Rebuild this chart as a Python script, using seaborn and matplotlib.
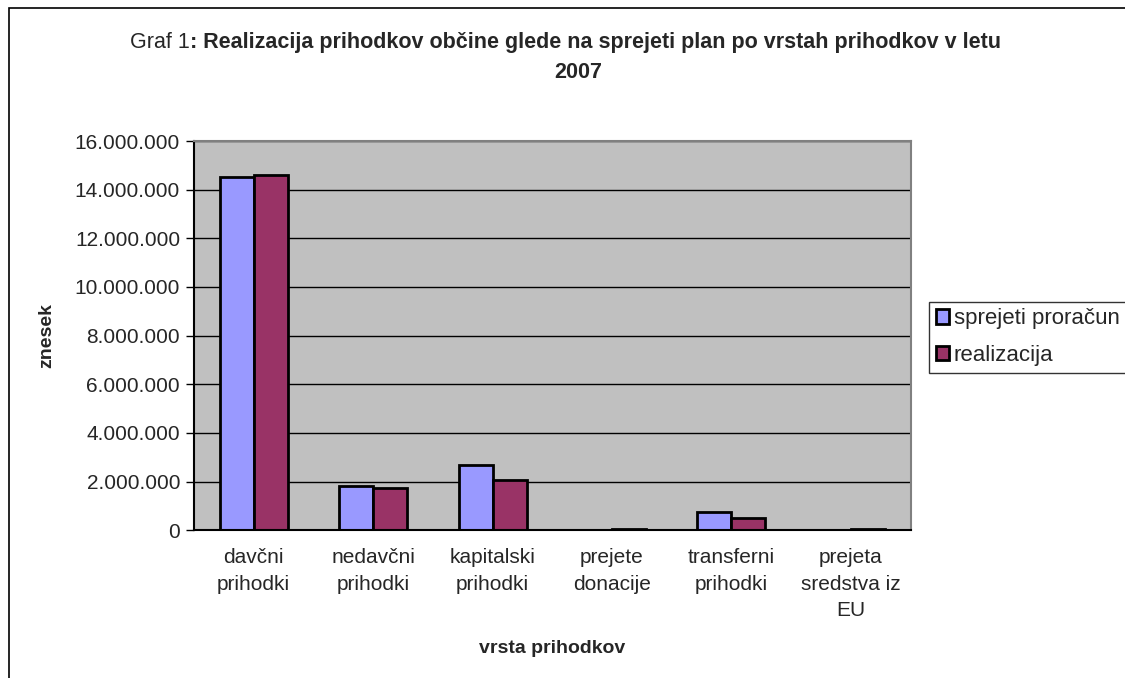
import matplotlib
matplotlib.use('Agg')

import matplotlib.pyplot as plt
import matplotlib.ticker as mticker
import seaborn as sns
import pandas as pd
import numpy as np

# data
kategorije = ['davčni\nprihodki', 'nedavčni\nprihodki', 'kapitalski\nprihodki',
              'prejete\ndonacije', 'transferni\nprihodki', 'prejeta\nsredstva iz\nEU']
sprejeti = [14530000, 1810000, 2660000, 25000, 730000, 25000]
realizacija = [14600000, 1750000, 2050000, 30000, 510000, 30000]
serije = ['sprejeti proračun', 'realizacija']
barve = ['#9999FF', '#993366']

df = pd.DataFrame({
    'kategorija': kategorije * 2,
    'serija': [serije[0]] * 6 + [serije[1]] * 6,
    'znesek': sprejeti + realizacija,
})

sns.set_style('white')
plt.rcParams['font.family'] = ['Liberation Sans', 'DejaVu Sans']

fig = plt.figure(figsize=(11.25, 6.78), dpi=100)
ax = fig.add_axes([0.1724, 0.218, 0.637, 0.574])
ax.set_facecolor('#C0C0C0')

sns.barplot(data=df, x='kategorija', y='znesek', hue='serija', palette=barve,
            saturation=1, width=0.57, edgecolor='black', linewidth=2, ax=ax, legend=False)

ax.set_ylim(0, 16000000)
ax.set_xlim(-0.5, 5.5)
ax.yaxis.set_major_locator(mticker.MultipleLocator(2000000))
ax.yaxis.set_major_formatter(mticker.FuncFormatter(lambda v, p: f'{int(v):,}'.replace(',', '.')))
ax.grid(axis='y', color='black', linewidth=1)
ax.set_axisbelow(True)

# ticks between categories
ax.set_xticks(np.arange(-0.5, 6, 1), minor=True)
ax.tick_params(axis='x', which='major', length=0, pad=13, labelsize=15)
ax.tick_params(axis='x', which='minor', length=6, width=1, color='black')
ax.tick_params(axis='y', length=6, width=1, color='black', labelsize=15, left=True, pad=4)
for lbl in ax.get_xticklabels():
    lbl.set_linespacing(1.5)

for s in ['top', 'right']:
    ax.spines[s].set_color('#808080')
    ax.spines[s].set_linewidth(1.5)
ax.spines['bottom'].set_color('black')
ax.spines['left'].set_color('black')
ax.spines['left'].set_linewidth(1.5)
ax.spines['bottom'].set_linewidth(1.5)

ax.set_xlabel('vrsta prihodkov', fontsize=14, fontweight='bold', labelpad=14)
ax.set_ylabel('znesek', fontsize=14, fontweight='bold', labelpad=14)

# legend
h = [plt.Rectangle((0, 0), 1, 1, facecolor=c, edgecolor='black', linewidth=2) for c in barve]
leg = fig.legend(h, serije, loc='upper left', bbox_to_anchor=(0.826, 0.555),
                 fontsize=16, frameon=True, fancybox=False, handlelength=0.6,
                 handleheight=0.6, handletextpad=0.2, borderpad=0.3, labelspacing=0.7,
                 borderaxespad=0)
leg.get_frame().set_edgecolor('black')
leg.get_frame().set_linewidth(1)

# title in two weights
fig.canvas.draw()
r = fig.canvas.get_renderer()
t1 = fig.text(0, 0.938, 'Graf 1', fontsize=15.5, ha='left', va='center')
t2 = fig.text(0, 0.938, ': Realizacija prihodkov občine glede na sprejeti plan po vrstah prihodkov v letu',
              fontsize=15.5, fontweight='bold', ha='left', va='center')
w1 = t1.get_window_extent(r).width / fig.bbox.width
w2 = t2.get_window_extent(r).width / fig.bbox.width
x0 = 0.503 - (w1 + w2) / 2
t1.set_x(x0)
t2.set_x(x0 + w1)
fig.text(0.514, 0.893, '2007', fontsize=15.5, fontweight='bold', ha='center', va='center')

# outer chart frame
fig.add_artist(plt.Rectangle((0.008, -0.1), 1.2, 1.088, transform=fig.transFigure,
                             fill=False, edgecolor='black', linewidth=1.2))

fig.savefig('out.png', dpi=100)
